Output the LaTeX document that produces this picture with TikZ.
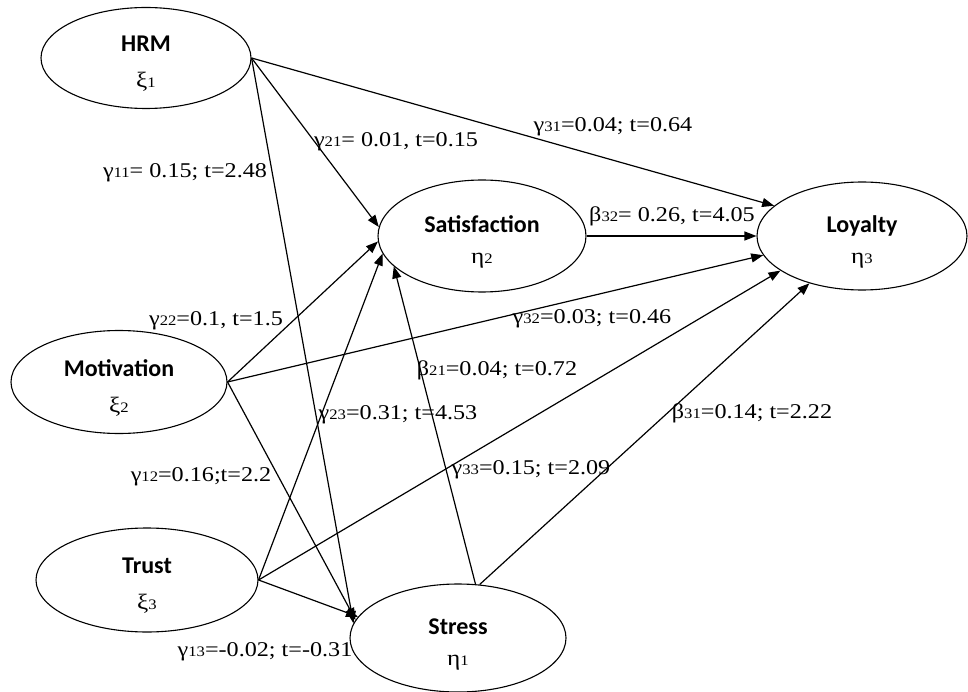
\documentclass[tikz,border=0pt]{standalone}
\usepackage{fontspec}
\setmainfont{Liberation Serif}[FakeStretch=1.15]
\newfontfamily\carl{Carlito}
\usetikzlibrary{shapes.geometric,arrows.meta}
\newcommand\sbx[1]{{\fontsize{14.5}{14}\selectfont #1}}
\newcommand\ltxt[3]{\raisebox{-6pt}[\height][\depth]{\begin{tabular}{@{}c@{}}{\carl\bfseries\fontsize{24}{24}\selectfont #1}\\[17pt]{\fontsize{22}{22}\selectfont #2\sbx{#3}}\end{tabular}}}
\begin{document}
\begin{tikzpicture}[x=1pt,y=-1pt,
 latent/.style={ellipse,draw,line width=1.1pt,inner sep=0pt},
 arr/.style={line width=1.2pt,-{Triangle[length=12pt,width=9pt]}},
 lab/.style={font=\fontsize{21}{21}\selectfont,inner sep=0pt}]
\useasboundingbox (0,0) rectangle (968,692);
% latent variables
\node[latent,minimum width=210pt,minimum height=101pt] (hrm) at (146,58) {\ltxt{HRM}{ξ}{1}};
\node[latent,minimum width=216pt,minimum height=103pt] (mot) at (119,382) {\ltxt{Motivation}{ξ}{2}};
\node[latent,minimum width=222pt,minimum height=104pt] (tru) at (147,580) {\ltxt{Trust}{ξ}{3}};
\node[latent,minimum width=216pt,minimum height=108pt] (str) at (458,638) {\ltxt{Stress}{η}{1}};
\node[latent,minimum width=208pt,minimum height=112pt] (sat) at (482,236) {\ltxt{Satisfaction}{η}{2}};
\node[latent,minimum width=210pt,minimum height=108pt] (loy) at (862,236) {\ltxt{Loyalty}{η}{3}};
% paths
\draw[arr] (hrm.east) -- (sat.175);
\draw[arr] (hrm.east) -- (loy.161);
\draw[arr] (hrm.east) -- (str.172);
\draw[arr] (mot.east) -- (sat.183);
\draw[arr] (mot.east) -- (loy.191);
\draw[arr] (mot.east) -- (str.170);
\draw[arr] (tru.east) -- (sat.190);
\draw[arr] (tru.east) -- (loy.203);
\draw[arr] (tru.east) -- (str.168);
\draw[arr] (str.72) -- (sat.199);
\draw[arr] (str.68) -- (loy.222);
\draw[arr] (sat.east) -- (loy.west);
% labels
\node[lab] (l11) at (185,173) {γ\sbx{11}= 0.15; t=2.48};
\node[lab] (l21) at (396,142) {γ\sbx{21}= 0.01, t=0.15};
\node[lab] (l31) at (613,127) {γ\sbx{31}=0.04; t=0.64};
\node[lab] (b32) at (672,216) {β\sbx{32}= 0.26, t=4.05};
\node[lab] (l22) at (216,321) {γ\sbx{22}=0.1, t=1.5};
\node[lab] (l32) at (592,319) {γ\sbx{32}=0.03; t=0.46};
\node[lab] (b21) at (497,370) {β\sbx{21}=0.04; t=0.72};
\node[lab] (l23) at (398,415) {γ\sbx{23}=0.31; t=4.53};
\node[lab] (b31) at (752,413) {β\sbx{31}=0.14; t=2.22};
\node[lab] (l12) at (201,477) {γ\sbx{12}=0.16;t=2.2};
\node[lab] (l33) at (531,470) {γ\sbx{33}=0.15; t=2.09};
\node[lab] (l13) at (265,652) {γ\sbx{13}=-0.02; t=-0.31};
\end{tikzpicture}
\end{document}
